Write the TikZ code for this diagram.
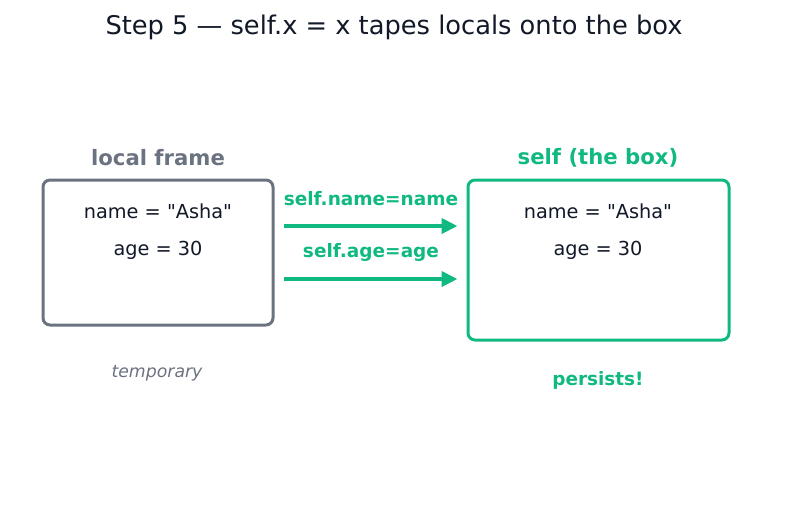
\documentclass[tikz,border=0pt]{standalone}
\usepackage{fontspec}
\setmainfont{DejaVu Sans}[Ligatures=TeXOff]
\usetikzlibrary{arrows.meta}
\definecolor{gr}{HTML}{6B7280}
\definecolor{gn}{HTML}{10B981}
\definecolor{tx}{HTML}{111827}
\tikzset{
  box/.style={draw, line width=3pt, rounded corners=7pt, inner sep=0pt},
  boxtext/.style={text=tx, font=\fontsize{19.3}{22}\selectfont, inner sep=0pt},
  head/.style={font=\bfseries\fontsize{21.2}{24}\selectfont, inner sep=0pt},
  arr/.style={gn, line width=4pt, -{Triangle[length=16pt,width=15pt]}, shorten <=9pt, shorten >=9pt},
  alab/.style={text=gn, font=\bfseries\fontsize{18.5}{21}\selectfont, inner sep=0pt},
}
\begin{document}
\begin{tikzpicture}[x=1pt,y=-1pt]
\useasboundingbox (0,0) rectangle (787,512);
\node[text=tx, font=\fontsize{25.7}{30}\selectfont, inner sep=0pt] (title) at (394,27.5) {Step 5 — self.x = x tapes locals onto the box};
\node[box, draw=gr, minimum width=230pt, minimum height=145pt] (lbox) at (158,252.5) {};
\node[box, draw=gn, minimum width=261pt, minimum height=160pt] (rbox) at (598.5,260) {};
\node[head, text=gr] (lhead) at (158,157.5) {local frame};
\node[head, text=gn] (rhead) at (598,158) {self (the box)};
\node[boxtext] (l1) at (158,211.5) {name = "Asha"};
\node[boxtext] (l2) at (158,250.5) {age = 30};
\node[boxtext] (r1) at (598,211.5) {name = "Asha"};
\node[boxtext] (r2) at (598,250.5) {age = 30};
\node[text=gr, font=\itshape\fontsize{17.3}{20}\selectfont, inner sep=0pt] (temp) at (157,373) {temporary};
\node[alab, font=\bfseries\fontsize{18.4}{21}\selectfont] (pers) at (598,380) {persists!};
\node[alab] (a1l) at (371,199) {self.name=name};
\node[alab] (a2l) at (371,252.5) {self.age=age};
\draw[arr] (lbox.east |- 0,226) -- (rbox.west |- 0,226);
\draw[arr] (lbox.east |- 0,279) -- (rbox.west |- 0,279);
\end{tikzpicture}
\end{document}
